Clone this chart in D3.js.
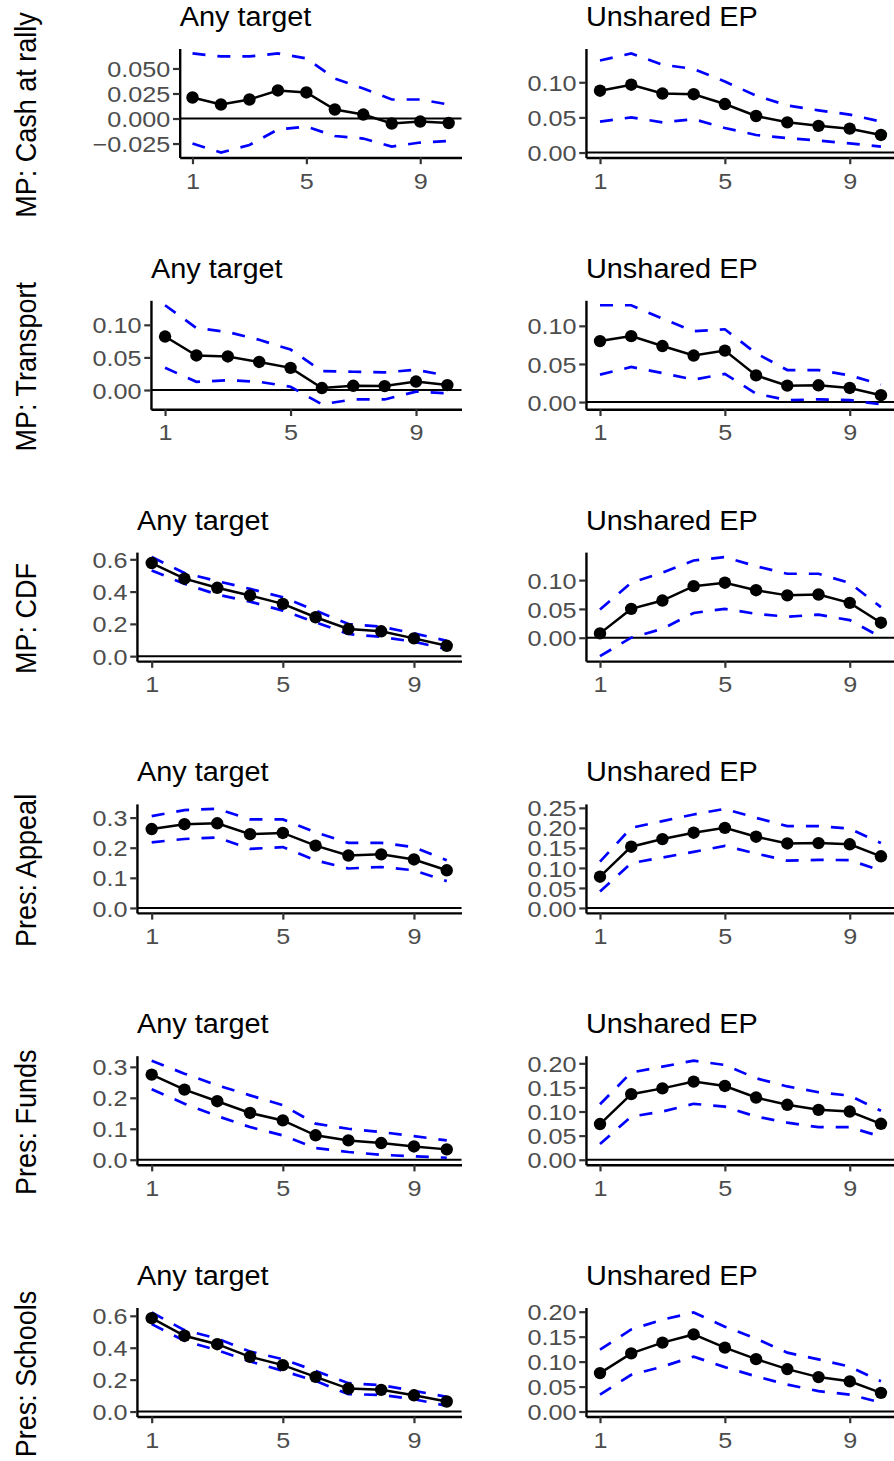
<!DOCTYPE html>
<html><head><meta charset="utf-8">
<script src="https://cdn.jsdelivr.net/npm/d3@7"></script>
<style>body{margin:0;background:#fff} svg{display:block}</style>
</head><body><svg id="c" width="894" height="1461"></svg>
<script>
const periods = [1,2,3,4,5,6,7,8,9,10];
const xTicks = [1,5,9];
const rowLabels = ["MP: Cash at rally","MP: Transport","MP: CDF","Pres: Appeal","Pres: Funds","Pres: Schools"];
const colTitles = ["Any target","Unshared EP"];

// Row 1: MP: Cash at rally
const cashAnyEst = [0.021, 0.014, 0.019, 0.028, 0.026, 0.009, 0.004, -0.005, -0.003, -0.0045];
const cashAnyHi  = [0.065, 0.062, 0.062, 0.065, 0.060, 0.040, 0.030, 0.019, 0.019, 0.014];
const cashAnyLo  = [-0.025, -0.034, -0.0265, -0.011, -0.008, -0.0175, -0.020, -0.028, -0.024, -0.0225];
const cashAnyTicks = [-0.025, 0, 0.025, 0.05];
const cashAnyTickLabels = ["\u22120.025","0.000","0.025","0.050"];
const cashUepEst = [0.088, 0.0965, 0.084, 0.083, 0.069, 0.052, 0.043, 0.038, 0.034, 0.025];
const cashUepHi  = [0.131, 0.141, 0.125, 0.119, 0.101, 0.081, 0.067, 0.060, 0.054, 0.044];
const cashUepLo  = [0.044, 0.050, 0.043, 0.0475, 0.035, 0.025, 0.0205, 0.017, 0.013, 0.0085];
const cashUepTicks = [0, 0.05, 0.10];
const cashUepTickLabels = ["0.00","0.05","0.10"];

// Row 2: MP: Transport
const transAnyEst = [0.082, 0.053, 0.0515, 0.043, 0.034, 0.003, 0.0065, 0.006, 0.013, 0.0075];
const transAnyHi  = [0.130, 0.095, 0.089, 0.077, 0.062, 0.029, 0.028, 0.027, 0.031, 0.022];
const transAnyLo  = [0.034, 0.0125, 0.015, 0.0125, 0.005, -0.022, -0.0145, -0.0145, -0.0025, -0.005];
const transAnyTicks = [0, 0.05, 0.10];
const transAnyTickLabels = ["0.00","0.05","0.10"];
const transUepEst = [0.080, 0.0865, 0.0735, 0.061, 0.0675, 0.035, 0.0215, 0.022, 0.0185, 0.009];
const transUepHi  = [0.127, 0.127, 0.1095, 0.093, 0.0955, 0.064, 0.042, 0.042, 0.035, 0.023];
const transUepLo  = [0.036, 0.046, 0.038, 0.0295, 0.037, 0.011, 0.0025, 0.0035, 0.0025, -0.003];
const transUepTicks = [0, 0.05, 0.10];
const transUepTickLabels = ["0.00","0.05","0.10"];

// Row 3: MP: CDF
const cdfAnyEst = [0.577, 0.480, 0.4235, 0.376, 0.324, 0.241, 0.168, 0.154, 0.110, 0.064];
const cdfAnyHi  = [0.614, 0.515, 0.465, 0.417, 0.365, 0.282, 0.199, 0.183, 0.141, 0.095];
const cdfAnyLo  = [0.531, 0.448, 0.382, 0.338, 0.282, 0.210, 0.137, 0.120, 0.089, 0.044];
const cdfAnyTicks = [0, 0.2, 0.4, 0.6];
const cdfAnyTickLabels = ["0.0","0.2","0.4","0.6"];
const cdfUepEst = [0.0075, 0.050, 0.0645, 0.0895, 0.0955, 0.0825, 0.0735, 0.075, 0.0605, 0.026];
const cdfUepHi  = [0.049, 0.0955, 0.113, 0.134, 0.140, 0.124, 0.111, 0.111, 0.095, 0.053];
const cdfUepLo  = [-0.032, 0.000, 0.0155, 0.043, 0.050, 0.0415, 0.0365, 0.040, 0.0305, 0.001];
const cdfUepTicks = [0, 0.05, 0.10];
const cdfUepTickLabels = ["0.00","0.05","0.10"];

// Row 4: Pres: Appeal
const appealAnyEst = [0.262, 0.278, 0.281, 0.245, 0.249, 0.207, 0.174, 0.178, 0.161, 0.125];
const appealAnyHi  = [0.305, 0.325, 0.329, 0.294, 0.294, 0.251, 0.216, 0.216, 0.202, 0.158];
const appealAnyLo  = [0.218, 0.229, 0.234, 0.196, 0.202, 0.158, 0.131, 0.136, 0.125, 0.089];
const appealAnyTicks = [0, 0.1, 0.2, 0.3];
const appealAnyTickLabels = ["0.0","0.1","0.2","0.3"];
const appealUepEst = [0.078, 0.153, 0.172, 0.188, 0.200, 0.178, 0.161, 0.162, 0.159, 0.129];
const appealUepHi  = [0.1155, 0.200, 0.217, 0.2335, 0.2475, 0.225, 0.2045, 0.2045, 0.198, 0.162];
const appealUepLo  = [0.041, 0.112, 0.126, 0.140, 0.155, 0.136, 0.118, 0.120, 0.1195, 0.093];
const appealUepTicks = [0, 0.05, 0.10, 0.15, 0.20, 0.25];
const appealUepTickLabels = ["0.00","0.05","0.10","0.15","0.20","0.25"];

// Row 5: Pres: Funds
const fundsAnyEst = [0.275, 0.2265, 0.189, 0.151, 0.127, 0.079, 0.0625, 0.054, 0.043, 0.0335];
const fundsAnyHi  = [0.320, 0.278, 0.2405, 0.208, 0.176, 0.1165, 0.100, 0.0895, 0.0765, 0.0625];
const fundsAnyLo  = [0.2275, 0.181, 0.141, 0.1055, 0.0785, 0.038, 0.025, 0.016, 0.011, 0.0065];
const fundsAnyTicks = [0, 0.1, 0.2, 0.3];
const fundsAnyTickLabels = ["0.0","0.1","0.2","0.3"];
const fundsUepEst = [0.074, 0.136, 0.148, 0.162, 0.153, 0.129, 0.114, 0.1035, 0.100, 0.0745];
const fundsUepHi  = [0.115, 0.181, 0.193, 0.2055, 0.1965, 0.169, 0.152, 0.140, 0.133, 0.1015];
const fundsUepLo  = [0.0325, 0.0895, 0.100, 0.116, 0.110, 0.0895, 0.077, 0.0675, 0.0675, 0.048];
const fundsUepTicks = [0, 0.05, 0.10, 0.15, 0.20];
const fundsUepTickLabels = ["0.00","0.05","0.10","0.15","0.20"];

// Row 6: Pres: Schools
const schoolsAnyEst = [0.585, 0.475, 0.422, 0.343, 0.291, 0.217, 0.144, 0.136, 0.102, 0.063];
const schoolsAnyHi  = [0.621, 0.510, 0.458, 0.376, 0.328, 0.255, 0.178, 0.165, 0.130, 0.092];
const schoolsAnyLo  = [0.548, 0.443, 0.385, 0.314, 0.255, 0.192, 0.109, 0.1045, 0.077, 0.0355];
const schoolsAnyTicks = [0, 0.2, 0.4, 0.6];
const schoolsAnyTickLabels = ["0.0","0.2","0.4","0.6"];
const schoolsUepEst = [0.077, 0.1165, 0.138, 0.1545, 0.128, 0.105, 0.085, 0.069, 0.0605, 0.0375];
const schoolsUepHi  = [0.124, 0.1645, 0.184, 0.1985, 0.170, 0.146, 0.118, 0.1045, 0.090, 0.0605];
const schoolsUepLo  = [0.034, 0.0735, 0.090, 0.110, 0.089, 0.0705, 0.054, 0.041, 0.034, 0.018];
const schoolsUepTicks = [0, 0.05, 0.10, 0.15, 0.20];
const schoolsUepTickLabels = ["0.00","0.05","0.10","0.15","0.20"];

const panels = [
  [[cashAnyEst,cashAnyLo,cashAnyHi,cashAnyTicks,cashAnyTickLabels],[cashUepEst,cashUepLo,cashUepHi,cashUepTicks,cashUepTickLabels]],
  [[transAnyEst,transAnyLo,transAnyHi,transAnyTicks,transAnyTickLabels],[transUepEst,transUepLo,transUepHi,transUepTicks,transUepTickLabels]],
  [[cdfAnyEst,cdfAnyLo,cdfAnyHi,cdfAnyTicks,cdfAnyTickLabels],[cdfUepEst,cdfUepLo,cdfUepHi,cdfUepTicks,cdfUepTickLabels]],
  [[appealAnyEst,appealAnyLo,appealAnyHi,appealAnyTicks,appealAnyTickLabels],[appealUepEst,appealUepLo,appealUepHi,appealUepTicks,appealUepTickLabels]],
  [[fundsAnyEst,fundsAnyLo,fundsAnyHi,fundsAnyTicks,fundsAnyTickLabels],[fundsUepEst,fundsUepLo,fundsUepHi,fundsUepTicks,fundsUepTickLabels]],
  [[schoolsAnyEst,schoolsAnyLo,schoolsAnyHi,schoolsAnyTicks,schoolsAnyTickLabels],[schoolsUepEst,schoolsUepLo,schoolsUepHi,schoolsUepTicks,schoolsUepTickLabels]]
];

// ---- layout ----
const FONT = "'Liberation Sans', Arial, Helvetica, sans-serif";
const TICK_FS = 22.5, TICK_SX = 1.12;
const TITLE_FS = 27, TITLE_SX = 1.07;
const ROW_FS = 27;
const rowTop0 = 48.5, rowStep = 251.8, panelH = 109;
const colLabelStart = [92.5, 527.5];
const colRight = [461.5, 895];
const tickLen = 6.7, tickPad = 2.7;

const svg = d3.select("#c");

function stretch(sel, sx) {
  sel.each(function(){
    const t = d3.select(this);
    const x = +t.attr("x") || 0, y = +t.attr("y") || 0;
    t.attr("transform", `translate(${x},${y}) scale(${sx},1)`).attr("x", 0).attr("y", 0);
  });
}

panels.forEach((row, r) => {
  const top = rowTop0 + r * rowStep;
  const bottom = top + panelH;

  // row label
  svg.append("text")
    .attr("transform", `translate(36,${(top + bottom) / 2 + 12}) scale(1.08,1) rotate(-90)`)
    .attr("text-anchor", "middle")
    .attr("font-family", FONT).attr("font-size", ROW_FS).attr("fill", "#000")
    .text(rowLabels[r]);

  row.forEach((p, c) => {
    const [est, lo, hi, ticks, tickLabels] = p;
    const tmp = svg.append("text").attr("font-family", FONT).attr("font-size", TICK_FS);
    let maxW = 0;
    tickLabels.forEach(l => { tmp.text(l); maxW = Math.max(maxW, tmp.node().getComputedTextLength() * TICK_SX); });
    tmp.remove();
    const left = colLabelStart[c] + maxW + tickPad + tickLen;
    const right = colRight[c];

    const x = d3.scaleLinear().domain([1 - 0.45, 10 + 0.45]).range([left, right]);
    const all = est.concat(lo, hi, [0]);
    const mn = d3.min(all), mx = d3.max(all), ex = (mx - mn) * 0.05;
    const y = d3.scaleLinear().domain([mn - ex, mx + ex]).range([bottom, top]);

    const g = svg.append("g");

    g.append("text").attr("x", left).attr("y", top - 22.6)
      .attr("font-family", FONT).attr("font-size", TITLE_FS).attr("fill", "#000")
      .text(colTitles[c]).call(stretch, TITLE_SX);

    g.append("line").attr("x1", left).attr("x2", right).attr("y1", y(0)).attr("y2", y(0))
      .attr("stroke", "#000").attr("stroke-width", 2);

    const line = d3.line().x((d, i) => x(periods[i])).y(d => y(d));
    [hi, lo].forEach(s => {
      g.append("path").attr("d", line(s)).attr("fill", "none")
        .attr("stroke", "#0000FF").attr("stroke-width", 2.7)
        .attr("stroke-dasharray", "13,12");
    });
    g.append("path").attr("d", line(est)).attr("fill", "none")
      .attr("stroke", "#000").attr("stroke-width", 2.5);
    g.selectAll("circle.pt").data(est).join("circle").attr("class", "pt")
      .attr("cx", (d, i) => x(periods[i])).attr("cy", d => y(d)).attr("r", 6.2).attr("fill", "#000");

    const ya = g.append("g").attr("transform", `translate(${left},0)`)
      .call(d3.axisLeft(y).tickValues(ticks).tickFormat((d, i) => tickLabels[i])
        .tickSize(tickLen).tickSizeOuter(0).tickPadding(tickPad));
    const xa = g.append("g").attr("transform", `translate(0,${bottom})`)
      .call(d3.axisBottom(x).tickValues(xTicks).tickFormat(d3.format("d"))
        .tickSize(tickLen).tickSizeOuter(0).tickPadding(tickPad));
    [ya, xa].forEach(a => {
      a.select(".domain").attr("stroke", "#000").attr("stroke-width", 2.4);
      a.selectAll(".tick line").attr("stroke", "#333333").attr("stroke-width", 2.2);
      a.selectAll(".tick text").attr("font-family", FONT).attr("font-size", TICK_FS).attr("fill", "#4D4D4D");
    });
    ya.selectAll(".tick text").attr("dy", null)
      .attr("y", TICK_FS * 0.36).call(stretch, TICK_SX);
    xa.selectAll(".tick text").attr("dy", null).attr("y", 31).call(stretch, TICK_SX);
  });
});
</script></body></html>
